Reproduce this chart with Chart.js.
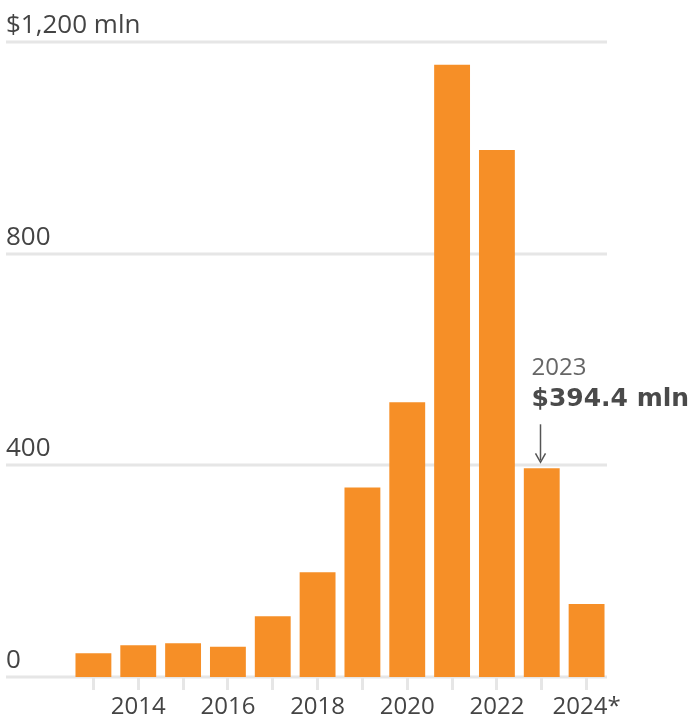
<!DOCTYPE html>
<html>
<head>
<meta charset="utf-8">
<script src="https://cdn.jsdelivr.net/npm/chart.js@4/dist/chart.umd.min.js"></script>
<style>
  html, body { margin: 0; padding: 0; background: #fff; }
  #wrap { position: relative; width: 690px; height: 722px; }
</style>
</head>
<body>
<div id="wrap"><canvas id="chart"></canvas></div>
<script>
// Annual totals, $ mln (2024 is year to date)
const years = ['2013', '2014', '2015', '2016', '2017', '2018', '2019', '2020', '2021', '2022', '2023', '2024*'];
const amounts = [45, 60, 64, 57, 115, 198, 358, 519, 1157, 996, 394.4, 138];

// y axis gridlines and their labels
const yTicks = [0, 400, 800, 1200];
const yTickLabels = ['0', '400', '800', '$1,200 mln'];

// callout
const calloutIndex = 10;
const calloutYear = '2023';

const FONT = "'Open Sans', 'Noto Sans', sans-serif";
const ORANGE = '#f68f27';
const GRID = '#e6e6e6';
const TEXT = '#444444';

// Gridlines run past the plot to the left edge, labels sit on top of them
const gridPlugin = {
    id: 'gridLabels',
    beforeDatasetsDraw(chart) {
        const { ctx, chartArea, scales: { y } } = chart;
        ctx.save();
        yTicks.forEach((v, i) => {
            const py = Math.round(y.getPixelForValue(v));
            ctx.strokeStyle = GRID;
            ctx.lineWidth = 3;
            ctx.beginPath();
            ctx.moveTo(6, py);
            ctx.lineTo(chartArea.right - 2, py);
            ctx.stroke();
            ctx.fillStyle = TEXT;
            ctx.font = '26px ' + FONT;
            ctx.textAlign = 'left';
            ctx.textBaseline = 'alphabetic';
            ctx.fillText(yTickLabels[i], 6, py - 9);
        });
        ctx.restore();
    }
};

const calloutPlugin = {
    id: 'callout',
    afterDatasetsDraw(chart) {
        const { ctx } = chart;
        const bar = chart.getDatasetMeta(0).data[calloutIndex];
        if (!bar) return;
        const bx = Math.round(bar.x) - 1.5;
        const top = bar.y;
        ctx.save();
        // arrow
        ctx.strokeStyle = '#555';
        ctx.lineWidth = 1.5;
        ctx.beginPath();
        ctx.moveTo(bx, top - 44);
        ctx.lineTo(bx, top - 8);
        ctx.stroke();
        ctx.beginPath();
        ctx.moveTo(bx - 5, top - 15);
        ctx.lineTo(bx, top - 6);
        ctx.lineTo(bx + 5, top - 15);
        ctx.stroke();
        // text
        ctx.textAlign = 'left';
        ctx.textBaseline = 'alphabetic';
        ctx.fillStyle = '#666';
        ctx.font = '24px ' + FONT;
        ctx.fillText(calloutYear, bx - 9, top - 93);
        ctx.fillStyle = '#4a4a4a';
        ctx.font = "bold 25px 'DejaVu Sans', sans-serif";
        ctx.fillText('$' + amounts[calloutIndex] + ' mln', bx - 9, top - 62);
        ctx.restore();
    }
};

const ctx = document.getElementById('chart').getContext('2d');
new Chart(ctx, {
    type: 'bar',
    data: {
        labels: years,
        datasets: [{
            data: amounts,
            backgroundColor: ORANGE,
            borderWidth: 0,
            categoryPercentage: 1,
            barPercentage: 0.8
        }]
    },
    options: {
        responsive: true,
        maintainAspectRatio: false,
        animation: false,
        layout: { padding: { top: 42, right: 81, left: 0, bottom: 0 } },
        plugins: {
            legend: { display: false },
            tooltip: { enabled: false }
        },
        scales: {
            x: {
                border: { display: false },
                grid: {
                    display: true,
                    offset: false,
                    drawOnChartArea: false,
                    drawTicks: true,
                    tickLength: 13,
                    color: GRID,
                    lineWidth: 3
                },
                ticks: {
                    autoSkip: false,
                    maxRotation: 0,
                    padding: 3,
                    color: TEXT,
                    font: { family: FONT, size: 24 },
                    callback: (val, i) => (i % 2 === 1 ? years[i] : '')
                },
                afterFit: (scale) => { scale.height = 45; }
            },
            y: {
                min: 0,
                max: 1200,
                border: { display: false },
                grid: { display: false },
                ticks: { display: false, stepSize: 400 },
                afterFit: (scale) => { scale.width = 71; }
            }
        }
    },
    plugins: [gridPlugin, calloutPlugin]
});
</script>
</body>
</html>
